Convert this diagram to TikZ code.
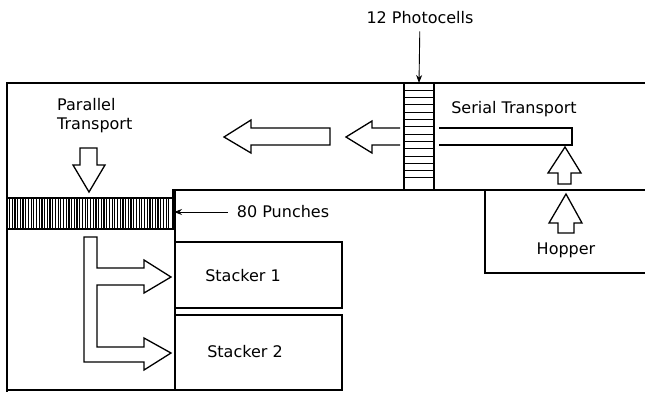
\documentclass[tikz,border=0pt]{standalone}
\usepackage{fontspec}
\setmainfont{DejaVu Sans}
\usetikzlibrary{arrows.meta}

\tikzset{
  wall/.style={line width=1.3pt},
  block/.style={line width=1.3pt, line join=miter},
  lbl/.style={font=\fontsize{16}{19}\selectfont, inner sep=1pt},
  pointer/.style={line width=0.9pt, -{Stealth[length=8pt,width=6pt]}}
}

\begin{document}
\begin{tikzpicture}[x=1pt,y=-1pt]
\useasboundingbox (0,0) rectangle (645,392);

% Housing
\draw[wall] (645,83) -- (7,83) -- (7,392);
\draw[wall] (173,197) -- (173,190) -- (645,190);
\draw[wall] (175,190) -- (175,390);
\draw[wall] (7,390) -- (342,390);

% Hopper
\draw[wall] (485,190) -- (485,273) -- (645,273);

% Stackers
\draw[wall] (175,242) rectangle (342,308);
\draw[wall] (175,315) rectangle (342,390);

% Photocells
\draw[wall] (404,83) rectangle (434,190);
\foreach \y in {90.3,97.6,...,184} {
\draw[line width=0.9pt] (404,\y) -- (434,\y);
}

% Punches
\draw[wall] (7,198) rectangle (173,229);
\foreach \x in {9.5,12.2,...,171} {
\draw[line width=1.2pt] (\x,198) -- (\x,229);
}

% Serial transport
\draw[block] (439,128) -- (572,128) -- (572,145) -- (439,145);
\draw[block] (558,184) -- (558,173) -- (548,173) -- (565,147) -- (581,173) -- (571,173) -- (571,184) -- cycle;
\draw[block] (558,233) -- (558,223) -- (549,223) -- (566,194) -- (582,223) -- (574,223) -- (574,233) -- cycle;

% Arrows to the left
\draw[block] (400,128) -- (372,128) -- (372,121) -- (346,137) -- (372,153) -- (372,145) -- (400,145);
\draw[block] (330,128) -- (251,128) -- (251,120) -- (224,137) -- (251,153) -- (251,145) -- (330,145) -- cycle;

% Parallel transport
\draw[block] (80,148) -- (97,148) -- (97,165) -- (105,165) -- (89,192) -- (73,165) -- (80,165) -- cycle;
\draw[block] (84,237) -- (97,237) -- (97,268) -- (144,268) -- (144,260) -- (171,277) -- (144,293) -- (144,285)
  -- (97,285) -- (97,347) -- (144,347) -- (144,338) -- (171,353) -- (144,370) -- (144,362) -- (84,362) -- cycle;

% Labels
\node[lbl] (photocells) at (420,18) {12 Photocells};
\coordinate (photoin) at (419,83);
\draw[pointer, shorten <=6pt] (photocells) -- (photoin);

\node[lbl] (punches) at (283,212) {80 Punches};
\coordinate (punchin) at (174,212);
\draw[pointer, shorten <=8pt] (punches) -- (punchin);

\node[lbl, anchor=west, align=left] (parallel) at (56,116) {Parallel\\Transport};
\node[lbl] (serial) at (514,109) {Serial Transport};
\node[lbl] (hopper) at (566,250) {Hopper};
\node[lbl] (stacker1) at (243,276) {Stacker 1};
\node[lbl] (stacker2) at (245,352) {Stacker 2};

\end{tikzpicture}
\end{document}
